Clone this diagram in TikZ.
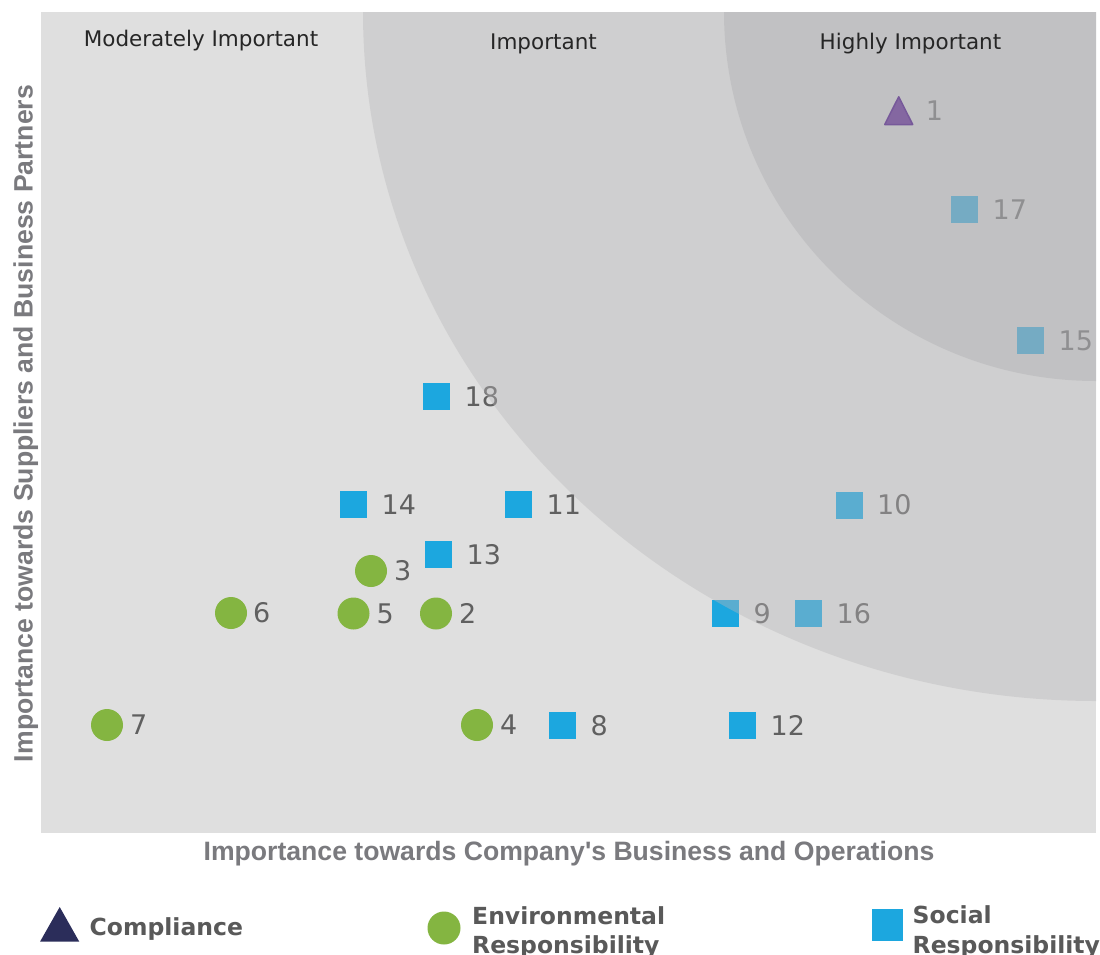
\documentclass[tikz,border=0pt]{standalone}
\usepackage{fontspec}
\setmainfont{DejaVu Sans}
\newfontfamily\libsans{Liberation Sans}
\usetikzlibrary{calc}
\definecolor{plotbg}{HTML}{DFDFDF}
\definecolor{envgreen}{HTML}{84B541}
\definecolor{socblue}{HTML}{1CA7DF}
\definecolor{compnavy}{HTML}{2B2D5A}
\definecolor{labgray}{HTML}{606060}
\definecolor{ovA}{RGB}{185,184,186}
\definecolor{ovB}{RGB}{168,168,172}
\definecolor{titlegray}{HTML}{262626}
\definecolor{axisgray}{HTML}{7A7A7E}
\definecolor{leggray}{HTML}{595959}
\definecolor{triface}{HTML}{8467A1}
\definecolor{triedge}{HTML}{77599A}
\begin{document}
\begin{tikzpicture}[x=1pt,y=-1pt,
  sqm/.style={rectangle,fill=socblue,minimum size=27pt,inner sep=0pt,draw=none},
  circm/.style={circle,fill=envgreen,minimum size=32pt,inner sep=0pt,draw=none},
  lab/.style={anchor=west,inner sep=0pt,text=labgray,font=\fontsize{27}{32}\selectfont},
  ttl/.style={anchor=base,inner sep=0pt,text=titlegray,font=\fontsize{21.5}{26}\selectfont},
  axt/.style={anchor=base,inner sep=0pt,text=axisgray,font=\libsans\bfseries\fontsize{26.6}{30}\selectfont},
  legt/.style={anchor=base west,inner sep=0pt,text=leggray,font=\bfseries\fontsize{23.5}{28}\selectfont},
  ovlA/.style={fill=ovA,fill opacity=0.395},
  ovlB/.style={fill=ovB,fill opacity=0.35}]
\useasboundingbox (0,0) rectangle (1100,954);
\fill[white] (0,0) rectangle (1100,954);
% plot area
\fill[plotbg] (41,12) rectangle (1096,833);
% social responsibility squares
\node[sqm] (m18) at (436.5,396.5) {};
\node[sqm] (m14) at (353.5,504.5) {};
\node[sqm] (m11) at (518.5,504.5) {};
\node[sqm] (m13) at (438.5,554.5) {};
\node[sqm] (m8) at (562.5,725.5) {};
\node[sqm] (m12) at (742.5,725.5) {};
\node[sqm] (m9) at (725.5,613.5) {};
\node[sqm] (m16) at (808.5,613.5) {};
\node[sqm] (m10) at (849,505) {};
\node[sqm] (m17) at (964.5,209.5) {};
\node[sqm] (m15) at (1030.5,340.5) {};
% environmental circles
\node[circm] (m3) at (371,571) {};
\node[circm] (m5) at (353.5,613.5) {};
\node[circm] (m2) at (436,613.5) {};
\node[circm] (m6) at (231,613) {};
\node[circm] (m7) at (107,725) {};
\node[circm] (m4) at (477,725) {};
\coordinate (m1) at (898.7,110.7);
% labels
\node[lab] (l18) at ([xshift=28pt]m18.center) {18};
\node[lab] (l14) at ([xshift=28pt]m14.center) {14};
\node[lab] (l11) at ([xshift=28pt]m11.center) {11};
\node[lab] (l13) at ([xshift=28pt]m13.center) {13};
\node[lab] (l8) at ([xshift=28pt]m8.center) {8};
\node[lab] (l12) at ([xshift=28pt]m12.center) {12};
\node[lab] (l9) at ([xshift=28pt]m9.center) {9};
\node[lab] (l16) at ([xshift=28pt]m16.center) {16};
\node[lab] (l10) at ([xshift=28pt]m10.center) {10};
\node[lab] (l17) at ([xshift=28pt]m17.center) {17};
\node[lab] (l15) at ([xshift=28pt]m15.center) {15};
\node[lab] (l3) at ([xshift=23pt]m3.center) {3};
\node[lab] (l5) at ([xshift=23pt]m5.center) {5};
\node[lab] (l2) at ([xshift=23pt]m2.center) {2};
\node[lab] (l6) at ([xshift=22pt]m6.center) {6};
\node[lab] (l7) at ([xshift=23pt]m7.center) {7};
\node[lab] (l4) at ([xshift=23pt]m4.center) {4};
\node[lab] (l1) at ([xshift=27pt]m1) {1};
% importance zones (translucent overlays)
\begin{scope}
\clip (41,12) rectangle (1096,833);
\fill[ovlA] (1096,12) ellipse [x radius=733pt, y radius=689pt];
\fill[ovlB] (1096,12) ellipse [x radius=372pt, y radius=369pt];
\end{scope}
% compliance triangle
\filldraw[fill=triface,draw=triedge,line width=1.5pt,line join=round]
  ([shift={(-14,13.8)}]m1) -- ([shift={(14,13.8)}]m1) -- ([shift={(0,-13.9)}]m1) -- cycle;
% zone titles
\node[ttl] (tmod) at (201,46.7) {Moderately Important};
\node[ttl] (timp) at (543.5,49.3) {Important};
\node[ttl] (thigh) at (910.5,49.3) {Highly Important};
% axis titles
\node[axt] (xaxis) at (569,860.7) {Importance towards Company's Business and Operations};
\node[axt,rotate=90] (yaxis) at (32.5,423.5) {Importance towards Suppliers and Business Partners};
% legend
\coordinate (lg1) at (59.7,930);
\fill[compnavy] ([shift={(-19.7,11.7)}]lg1) -- ([shift={(19.6,11.7)}]lg1) -- ([shift={(0,-23)}]lg1) -- cycle;
\node[legt] (lgt1) at (89.5,935) {Compliance};
\node[circle,fill=envgreen,minimum size=33pt,inner sep=0pt] (lg2) at (444,928) {};
\node[legt] (lgt2a) at (472,924.3) {Environmental};
\node[legt] (lgt2b) at (472,953.7) {Responsibility};
\node[rectangle,fill=socblue,minimum width=31pt,minimum height=32pt,inner sep=0pt] (lg3) at (887.8,925) {};
\node[legt] (lgt3a) at (912.5,923.3) {Social};
\node[legt] (lgt3b) at (912.5,953.2) {Responsibility};
\end{tikzpicture}
\end{document}
